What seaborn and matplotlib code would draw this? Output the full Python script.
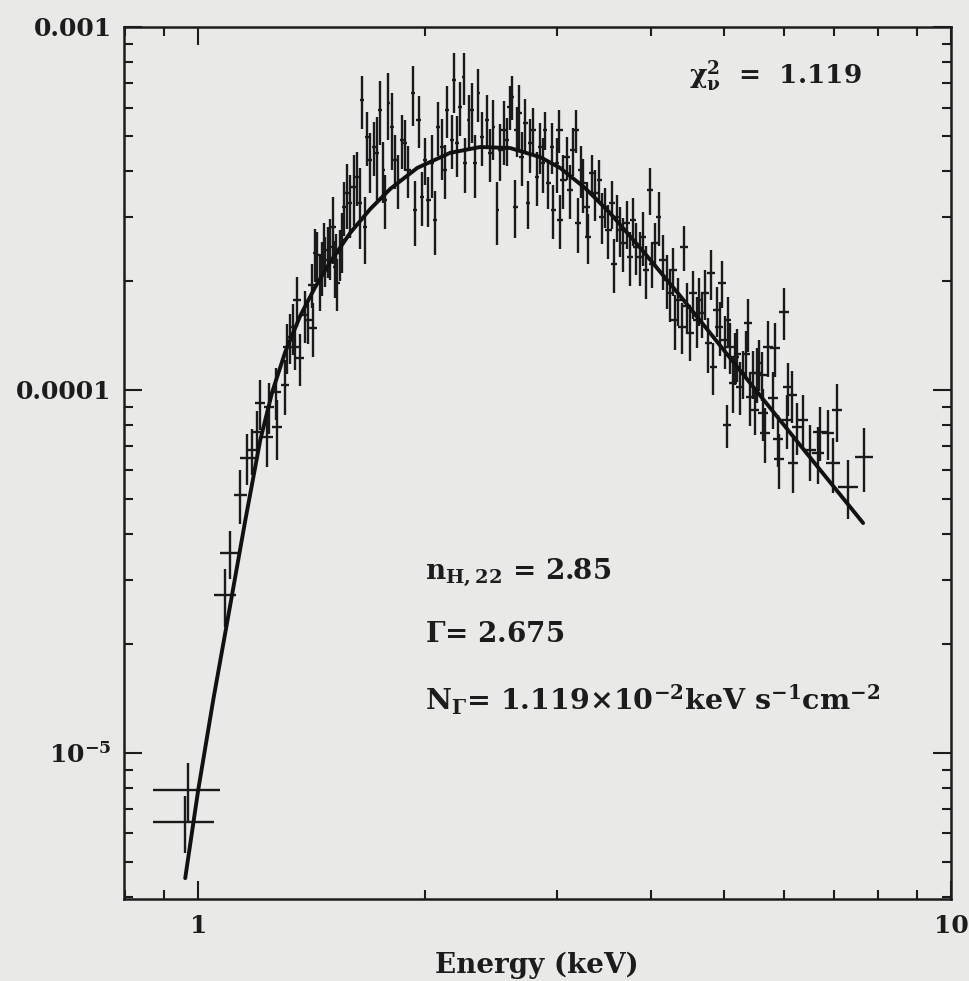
import numpy as np
import matplotlib
matplotlib.use("Agg")
import matplotlib.pyplot as plt
import seaborn as sns
from matplotlib.ticker import LogLocator, NullFormatter

# ---- Spectrum: bin centre (keV), half bin width, flux and 1-sigma error ----
energy = [
    0.961, 0.970,
    1.086, 1.103, 1.137, 1.162, 1.179, 1.198, 1.209, 1.235, 1.240, 1.268, 1.273,
    1.305, 1.313, 1.325, 1.337, 1.345, 1.354, 1.366, 1.387, 1.400, 1.417, 1.421,
    1.430, 1.439, 1.452, 1.458, 1.470, 1.475, 1.488, 1.497, 1.512, 1.520, 1.525,
    1.530, 1.544, 1.550, 1.560, 1.576, 1.592, 1.608, 1.625, 1.641, 1.650, 1.666,
    1.675, 1.692, 1.710, 1.727, 1.745, 1.762, 1.771, 1.789, 1.808, 1.826, 1.845,
    1.864, 1.883, 1.902, 1.928, 1.942, 1.962, 1.982, 2.002, 2.022, 2.043, 2.064,
    2.085, 2.107, 2.128, 2.140, 2.173, 2.188, 2.206, 2.228, 2.251, 2.263, 2.286,
    2.309, 2.333, 2.356, 2.381, 2.417, 2.442, 2.467, 2.497,
    2.518, 2.544, 2.570, 2.591, 2.610, 2.636, 2.650, 2.671, 2.691, 2.719, 2.741,
    2.760, 2.788, 2.817, 2.846, 2.870, 2.890, 2.919, 2.949, 2.964, 2.995,
    3.019, 3.025, 3.056, 3.087, 3.119, 3.150, 3.177, 3.199, 3.222, 3.249, 3.282,
    3.298, 3.333, 3.367, 3.412, 3.437, 3.472, 3.507, 3.543, 3.569, 3.597, 3.634,
    3.671, 3.709, 3.747, 3.778, 3.816, 3.864, 3.903, 3.936, 3.984, 4.004, 4.045,
    4.087,
    4.149, 4.193, 4.235, 4.270, 4.301, 4.344, 4.390, 4.421, 4.457, 4.502, 4.548,
    4.596, 4.632, 4.666, 4.714, 4.762, 4.797, 4.835, 4.885, 4.925, 4.961, 5.012,
    5.037, 5.047, 5.088, 5.130, 5.166, 5.202, 5.246, 5.288, 5.342, 5.370, 5.408,
    5.453, 5.492, 5.531, 5.565,
    5.610, 5.627, 5.662, 5.715, 5.802, 5.838, 5.892, 5.900, 6.000, 6.055, 6.074,
    6.149, 6.169, 6.245, 6.360, 6.496, 6.658, 6.699, 6.866, 6.971, 7.057, 7.298,
    7.665,
]

energy_err = [
    0.090, 0.100,
    0.037, 0.034, 0.023, 0.027, 0.022, 0.021, 0.019, 0.022, 0.019, 0.019, 0.019,
    0.017, 0.017, 0.017, 0.017, 0.017, 0.017, 0.017, 0.017, 0.017, 0.017, 0.017,
    0.010, 0.012, 0.012, 0.010, 0.010, 0.012, 0.012, 0.010, 0.010, 0.012, 0.010,
    0.012, 0.012, 0.010, 0.010, 0.010, 0.010, 0.010, 0.010, 0.010, 0.010, 0.010,
    0.010, 0.010, 0.010, 0.010, 0.010, 0.010, 0.010, 0.010, 0.010, 0.010, 0.010,
    0.010, 0.010, 0.013, 0.013, 0.013, 0.013, 0.013, 0.013, 0.013, 0.013, 0.013,
    0.013, 0.013, 0.013, 0.013, 0.013, 0.013, 0.013, 0.013, 0.013, 0.013, 0.013,
    0.013, 0.013, 0.013, 0.013, 0.013, 0.013, 0.013, 0.013,
    0.020, 0.020, 0.020, 0.020, 0.020, 0.020, 0.020, 0.020, 0.020, 0.020, 0.020,
    0.020, 0.020, 0.020, 0.020, 0.020, 0.020, 0.020, 0.020, 0.020, 0.020,
    0.030, 0.030, 0.030, 0.030, 0.030, 0.030, 0.030, 0.030, 0.030, 0.030, 0.030,
    0.030, 0.030, 0.030, 0.030, 0.030, 0.035, 0.035, 0.035, 0.035, 0.035, 0.035,
    0.035, 0.035, 0.035, 0.035, 0.035, 0.035, 0.035, 0.035, 0.035, 0.035, 0.035,
    0.035,
    0.050, 0.050, 0.050, 0.050, 0.050, 0.050, 0.050, 0.050, 0.050, 0.055, 0.055,
    0.055, 0.055, 0.055, 0.055, 0.055, 0.055, 0.055, 0.060, 0.060, 0.060, 0.060,
    0.060, 0.060, 0.060, 0.060, 0.060, 0.060, 0.065, 0.065, 0.065, 0.065, 0.065,
    0.065, 0.065, 0.065, 0.065,
    0.090, 0.090, 0.090, 0.090, 0.090, 0.090, 0.090, 0.090, 0.095, 0.095, 0.095,
    0.095, 0.095, 0.095, 0.100, 0.110, 0.120, 0.140, 0.120, 0.140, 0.110, 0.220,
    0.210,
]

flux = [
    6.46e-6, 7.91e-6,
    2.72e-5, 3.56e-5, 5.14e-5, 6.50e-5, 6.83e-5, 7.66e-5, 9.21e-5, 7.42e-5, 8.98e-5, 9.87e-5, 7.91e-5,
    1.032e-4, 1.314e-4, 1.40e-4, 1.49e-4, 1.314e-4, 1.77e-4, 1.225e-4, 1.609e-4, 1.559e-4, 1.947e-4, 1.482e-4,
    2.38e-4, 2.35e-4, 2.01e-4, 2.19e-4, 2.48e-4, 2.28e-4, 2.43e-4, 2.48e-4, 2.82e-4, 2.18e-4, 2.28e-4,
    1.97e-4, 2.38e-4, 2.59e-4, 3.20e-4, 3.48e-4, 3.27e-4, 3.63e-4, 3.87e-4, 3.27e-4, 6.29e-4, 2.82e-4,
    4.99e-4, 4.30e-4, 4.68e-4, 4.49e-4, 5.91e-4, 4.04e-4, 3.34e-4, 6.16e-4, 5.31e-4, 4.30e-4, 3.79e-4,
    4.88e-4, 4.78e-4, 4.04e-4, 6.57e-4, 3.13e-4, 5.54e-4, 3.41e-4, 4.30e-4, 3.34e-4, 4.21e-4, 2.94e-4,
    5.31e-4, 4.68e-4, 4.04e-4, 5.91e-4, 4.88e-4, 7.14e-4, 4.78e-4, 6.03e-4, 7.30e-4, 4.21e-4, 5.54e-4,
    5.91e-4, 4.21e-4, 6.57e-4, 4.99e-4, 5.54e-4, 4.49e-4, 5.31e-4, 3.13e-4,
    4.58e-4, 5.20e-4, 4.88e-4, 6.03e-4, 6.43e-4, 3.20e-4, 5.20e-4, 5.78e-4, 4.39e-4, 5.43e-4, 3.27e-4,
    4.78e-4, 5.20e-4, 3.87e-4, 4.68e-4, 4.21e-4, 5.20e-4, 3.71e-4, 4.68e-4, 3.13e-4, 4.21e-4,
    5.20e-4, 2.94e-4, 3.79e-4, 4.39e-4, 3.56e-4, 4.58e-4, 5.20e-4, 2.88e-4, 4.04e-4, 3.71e-4, 3.20e-4,
    2.64e-4, 3.95e-4, 3.48e-4, 3.79e-4, 3.00e-4, 3.20e-4, 2.76e-4, 3.27e-4, 2.23e-4, 3.00e-4, 2.76e-4,
    2.54e-4, 2.88e-4, 2.33e-4, 2.94e-4, 2.48e-4, 2.33e-4, 2.64e-4, 2.14e-4, 3.56e-4, 2.23e-4, 2.54e-4,
    3.00e-4,
    2.28e-4, 2.01e-4, 1.85e-4, 2.14e-4, 1.559e-4, 1.77e-4, 1.494e-4, 2.48e-4, 1.70e-4, 1.433e-4, 1.85e-4,
    1.559e-4, 1.77e-4, 1.627e-4, 1.85e-4, 1.345e-4, 2.10e-4, 1.159e-4, 1.66e-4, 1.494e-4, 1.97e-4, 1.373e-4,
    8.01e-5, 1.559e-4, 1.316e-4, 1.044e-4, 1.235e-4, 1.26e-4, 1.021e-4, 1.112e-4, 1.26e-4, 1.526e-4, 9.58e-5,
    1.112e-4, 8.81e-5, 1.112e-4, 1.184e-4,
    1.10e-4, 8.64e-5, 7.61e-5, 1.314e-4, 9.51e-5, 1.305e-4, 7.33e-5, 6.45e-5, 1.64e-4, 8.27e-5, 1.019e-4,
    9.69e-5, 6.29e-5, 7.91e-5, 8.27e-5, 6.83e-5, 6.71e-5, 7.66e-5, 7.62e-5, 6.29e-5, 8.81e-5, 5.40e-5,
    6.54e-5,
]

flux_err = [
    1.15e-6, 1.5e-6,
    4.9e-6, 5.4e-6, 8.8e-6, 1.04e-5, 1.0e-5, 1.1e-5, 1.47e-5, 1.3e-5, 1.44e-5, 1.6e-5, 1.5e-5,
    1.8e-5, 2.1e-5, 2.2e-5, 2.4e-5, 1.8e-5, 2.8e-5, 2.0e-5, 2.6e-5, 2.2e-5, 2.7e-5, 2.5e-5,
    4.0e-5, 3.8e-5, 3.6e-5, 3.7e-5, 4.0e-5, 3.6e-5, 3.9e-5, 4.7e-5, 5.9e-5, 3.9e-5, 4.1e-5,
    3.2e-5, 3.8e-5, 4.9e-5, 5.4e-5, 7.0e-5, 6.5e-5, 8.0e-5, 6.6e-5, 8.2e-5, 1.04e-4, 5.9e-5,
    8.5e-5, 8.2e-5, 8.0e-5, 1.17e-4, 1.18e-4, 7.7e-5, 5.7e-5, 1.29e-4, 1.27e-4, 7.3e-5, 6.4e-5,
    8.3e-5, 7.6e-5, 6.5e-5, 1.25e-4, 6.3e-5, 9.0e-5, 5.8e-5, 6.4e-5, 5.3e-5, 8.4e-5, 5.9e-5,
    9.0e-5, 8.9e-5, 6.9e-5, 9.5e-5, 8.3e-5, 1.36e-4, 9.1e-5, 1.03e-4, 1.2e-4, 7.2e-5, 9.4e-5,
    1.12e-4, 8.4e-5, 1.1e-4, 8.5e-5, 9.4e-5, 7.6e-5, 1.0e-4, 6.2e-5,
    8.2e-5, 1.04e-4, 7.3e-5, 8.4e-5, 9.0e-5, 5.8e-5, 8.3e-5, 1.16e-4, 7.5e-5, 9.2e-5, 4.9e-5,
    8.1e-5, 7.8e-5, 6.6e-5, 7.5e-5, 7.2e-5, 6.2e-5, 5.6e-5, 7.5e-5, 5.3e-5, 7.2e-5,
    7.0e-5, 5.0e-5, 6.4e-5, 6.0e-5, 6.0e-5, 6.9e-5, 7.0e-5, 4.9e-5, 6.5e-5, 6.3e-5, 5.4e-5,
    4.2e-5, 5.0e-5, 5.6e-5, 5.2e-5, 4.8e-5, 4.1e-5, 4.7e-5, 4.9e-5, 3.8e-5, 4.5e-5, 4.4e-5,
    4.3e-5, 4.3e-5, 4.0e-5, 4.4e-5, 4.0e-5, 4.0e-5, 4.5e-5, 3.6e-5, 5.3e-5, 3.2e-5, 3.4e-5,
    5.0e-5,
    3.9e-5, 3.4e-5, 3.1e-5, 3.2e-5, 2.7e-5, 2.7e-5, 2.4e-5, 3.5e-5, 2.7e-5, 2.3e-5, 2.8e-5,
    2.5e-5, 2.7e-5, 2.4e-5, 2.9e-5, 2.3e-5, 3.3e-5, 1.9e-5, 2.6e-5, 2.5e-5, 2.9e-5, 2.3e-5,
    1.1e-5, 2.5e-5, 2.1e-5, 1.8e-5, 2.0e-5, 2.1e-5, 1.7e-5, 1.7e-5, 1.9e-5, 2.5e-5, 1.6e-5,
    1.7e-5, 1.3e-5, 1.9e-5, 1.9e-5,
    1.7e-5, 1.4e-5, 1.3e-5, 2.3e-5, 1.7e-5, 2.2e-5, 1.2e-5, 1.1e-5, 2.7e-5, 1.4e-5, 1.7e-5,
    1.6e-5, 1.1e-5, 1.3e-5, 1.4e-5, 1.2e-5, 1.2e-5, 1.3e-5, 1.2e-5, 1.1e-5, 1.6e-5, 1.0e-5,
    1.3e-5,
]

# ---- Best-fit absorbed power-law model ----
model_energy = [
    0.961, 1.000, 1.047, 1.100, 1.155, 1.209, 1.254, 1.305, 1.366, 1.430,
    1.497, 1.592, 1.692, 1.799, 1.954, 2.161, 2.369, 2.596, 2.846, 3.025,
    3.265, 3.525, 3.899, 4.367, 4.786, 5.408, 6.301, 7.641,
]
model_flux = [
    4.52e-6, 7.91e-6, 1.40e-5, 2.48e-5, 4.38e-5, 7.28e-5, 9.87e-5, 1.273e-4,
    1.60e-4, 1.92e-4, 2.25e-4, 2.71e-4, 3.15e-4, 3.58e-4, 4.09e-4, 4.50e-4,
    4.67e-4, 4.64e-4, 4.38e-4, 4.09e-4, 3.60e-4, 3.07e-4, 2.41e-4, 1.816e-4,
    1.435e-4, 1.045e-4, 7.05e-5, 4.30e-5,
]

# ---- Axis ticks ----
x_ticks = [1, 10]
x_tick_labels = ["1", "10"]
y_ticks = [1e-5, 1e-4, 1e-3]
y_tick_labels = [r"10$^{-5}$", "0.0001", "0.001"]

# ---- Fit results ----
chi2_label = r"$\chi^{2}_{\nu}$  =  1.119"
nh_label = r"n$_{\mathbf{H,22}}$ = 2.85"
gamma_label = r"$\Gamma$= 2.675"
norm_label = r"N$_{\Gamma}$= 1.119$\times$10$^{-2}$keV s$^{-1}$cm$^{-2}$"

paper = "#e9e9e7"
ink = "#1c1c1c"

sns.set_theme(style="ticks")
plt.rcParams["font.family"] = ["DejaVu Serif"]
plt.rcParams["mathtext.fontset"] = "dejavuserif"
plt.rcParams["mathtext.default"] = "bf"
plt.rcParams["font.weight"] = "bold"

fig = plt.figure(figsize=(9.69, 9.81), dpi=100, facecolor=paper)
ax = fig.add_axes([0.1280, 0.0836, 0.8535, 0.8889], facecolor=paper)

ax.errorbar(energy, flux, xerr=energy_err, yerr=flux_err, fmt="none",
            ecolor="#1a1a1a", elinewidth=1.7, capsize=0, zorder=2)
sns.lineplot(x=model_energy, y=model_flux, ax=ax, color="#111111",
             linewidth=2.8, sort=False, estimator=None, zorder=3)

ax.set_xscale("log")
ax.set_yscale("log")
ax.set_xlim(0.797, 10.0)
ax.set_ylim(3.96e-6, 1.0e-3)

ax.set_xticks(x_ticks)
ax.set_xticklabels(x_tick_labels)
ax.xaxis.set_minor_locator(LogLocator(base=10, subs=np.arange(2, 10)))
ax.xaxis.set_minor_formatter(NullFormatter())
ax.set_yticks(y_ticks)
ax.set_yticklabels(y_tick_labels)
ax.yaxis.set_minor_locator(LogLocator(base=10, subs=np.arange(2, 10)))
ax.yaxis.set_minor_formatter(NullFormatter())

ax.tick_params(which="both", direction="in", top=True, right=True,
               color=ink, width=1.5, labelcolor=ink)
ax.tick_params(which="major", length=13, labelsize=18, pad=9)
ax.tick_params(axis="x", which="major", pad=11)
ax.tick_params(which="minor", length=6.5)
for lab in ax.get_xticklabels() + ax.get_yticklabels():
    lab.set_fontweight("bold")
for spine in ax.spines.values():
    spine.set_linewidth(1.8)
    spine.set_color(ink)

ax.set_xlabel("")
ax.set_ylabel("")
fig.text(0.554, 0.016, "Energy (keV)", ha="center", va="center",
         fontsize=20, fontweight="bold", color=ink)

text_kw = dict(transform=ax.transAxes, fontweight="bold",
               color=ink, ha="left", va="center")
ax.text(0.683, 0.944, chi2_label, fontsize=19, **text_kw)
ax.text(0.364, 0.375, nh_label, fontsize=20, **text_kw)
ax.text(0.364, 0.303, gamma_label, fontsize=20, **text_kw)
ax.text(0.364, 0.228, norm_label, fontsize=20.5, **text_kw)

fig.savefig("out.png", dpi=100, facecolor=paper)
